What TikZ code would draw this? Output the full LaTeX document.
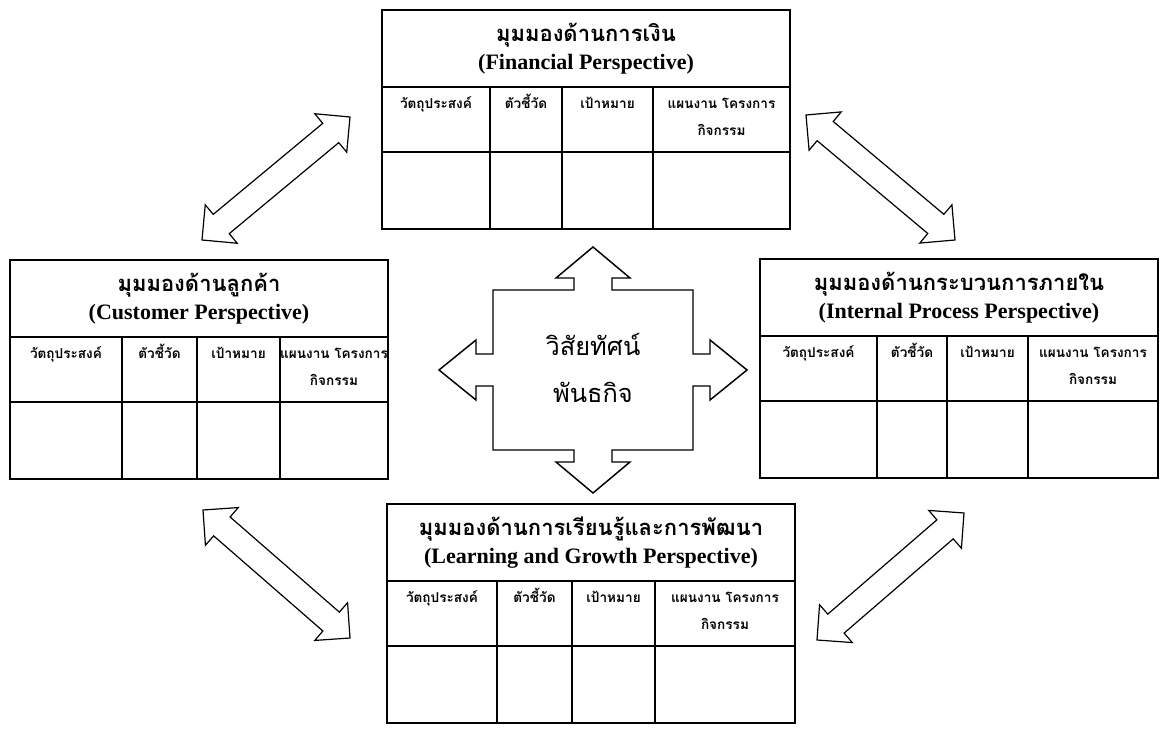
\documentclass[tikz,border=0pt]{standalone}
\usepackage{fontspec}
\setmainfont{Liberation Serif}
\newfontfamily\thai[Script=Thai]{Loma}
\usetikzlibrary{calc}

% one perspective table: name, x, y, width, three column widths, Thai title, English title
\newcommand{\perspective}[9]{%
	\node[headcell, minimum width=#4*0.75pt, anchor=north west] (#1-head) at (#2, #3) {{\thai\bfseries #8}\\[1pt]{\bfseries #9}};
	\node[colcell, minimum width=#5*0.75pt] (#1-c1) at (#1-head.south west) {};
	\node[colcell, minimum width=#6*0.75pt] (#1-c2) at (#1-c1.north east) {};
	\node[colcell, minimum width=#7*0.75pt] (#1-c3) at (#1-c2.north east) {};
	\node[colcell, minimum width=(#4-#5-#6-#7)*0.75pt] (#1-c4) at (#1-c3.north east) {};
	\node[bodycell, minimum width=#5*0.75pt] (#1-b1) at (#1-c1.south west) {};
	\node[bodycell, minimum width=#6*0.75pt] (#1-b2) at (#1-c2.south west) {};
	\node[bodycell, minimum width=#7*0.75pt] (#1-b3) at (#1-c3.south west) {};
	\node[bodycell, minimum width=(#4-#5-#6-#7)*0.75pt] (#1-b4) at (#1-c4.south west) {};
	\node[collabel] (#1-t1) at ($(#1-c1.north) + (0, 7)$) {วัตถุประสงค์};
	\node[collabel] (#1-t2) at ($(#1-c2.north) + (0, 7)$) {ตัวชี้วัด};
	\node[collabel] (#1-t3) at ($(#1-c3.north) + (0, 7)$) {เป้าหมาย};
	\node[collabel] (#1-t4) at ($(#1-c4.north) + (0, 7)$) {\begin{tabular}[t]{@{}c@{}}แผนงาน โครงการ\\กิจกรรม\end{tabular}};
	\draw[line width = 2.2pt] (#1-c1.north west) rectangle (#1-b4.south east);
}

% hollow double arrow between two points
\newcommand{\bigarrow}[2]{%
	\draw[blockarrow] (#1) -- ($(#1)!26.5pt!45:(#2)$) -- ($(#1)!21pt!26.57:(#2)$) -- ($(#2)!21pt!-26.57:(#1)$) -- ($(#2)!26.5pt!-45:(#1)$) -- (#2) -- ($(#2)!26.5pt!45:(#1)$) -- ($(#2)!21pt!26.57:(#1)$) -- ($(#1)!21pt!-26.57:(#2)$) -- ($(#1)!26.5pt!-45:(#2)$) -- cycle;
}

\begin{document}
\begin{tikzpicture}[x = 0.75pt, y = -0.75pt,
	headcell/.style = {draw, line width = 1.1pt, fill = white, align = center, minimum height = 77*0.75pt, outer sep = 0pt, font = \fontsize{16.5}{20}\selectfont},
	colcell/.style = {draw, line width = 1.2pt, fill = white, anchor = north west, minimum height = 65*0.75pt, outer sep = 0pt, inner sep = 0pt},
	bodycell/.style = {draw, line width = 1.2pt, fill = white, anchor = north west, minimum height = 77*0.75pt, outer sep = 0pt, inner sep = 0pt},
	collabel/.style = {anchor = north, inner sep = 0pt, text height = 11pt, font = \thai\bfseries\fontsize{10.2}{20}\selectfont},
	blockarrow/.style = {draw, line width = 0.9pt, fill = white, line join = miter},
	vision/.style = {align = center, font = \thai\fontsize{19}{35}\selectfont}]
	 \useasboundingbox[fill = white] (0, 0) rectangle (1161, 730);

	 % the four perspectives
	 \perspective{fin}{382}{10}{408}{108}{72}{91}{มุมมองด้านการเงิน}{(Financial Perspective)}
	 \perspective{cus}{10}{260}{378}{112}{75}{83}{มุมมองด้านลูกค้า}{(Customer Perspective)}
	 \perspective{int}{760}{259}{398}{117}{70}{81}{มุมมองด้านกระบวนการภายใน}{(Internal Process Perspective)}
	 \perspective{lrn}{387}{504}{408}{110}{75}{83}{มุมมองด้านการเรียนรู้และการพัฒนา}{(Learning and Growth Perspective)}

	 % centre cross
	 \begin{scope}[shift = {(593, 370)}]
	 \draw[line width = 1.1pt, fill = white] (-100, -80) -- (-19, -80) -- (-19, -92) -- (-37, -92) -- (0, -123) -- (37, -92) -- (19, -92) -- (19, -80) -- (100, -80) -- (100, -16) -- (117, -16) -- (117, -30) -- (154, 0) -- (117, 30) -- (117, 16) -- (100, 16) -- (100, 80) -- (19, 80) -- (19, 92) -- (37, 92) -- (0, 123) -- (-37, 92) -- (-19, 92) -- (-19, 80) -- (-100, 80) -- (-100, 16) -- (-117, 16) -- (-117, 30) -- (-154, 0) -- (-117, -30) -- (-117, -16) -- (-100, -16) -- cycle;
	 \end{scope}
	 \node[vision] (vision) at (593, 368) {วิสัยทัศน์\\พันธกิจ};

	 % arrows between the tables
	 \coordinate (fc-a) at (202, 240);
	 \coordinate (fc-b) at (350, 117);
	 \coordinate (fi-a) at (806, 115);
	 \coordinate (fi-b) at (955, 240);
	 \coordinate (cl-a) at (203, 510);
	 \coordinate (cl-b) at (350, 638);
	 \coordinate (il-a) at (817, 640);
	 \coordinate (il-b) at (964, 513);
	 \bigarrow{fc-a}{fc-b}
	 \bigarrow{fi-a}{fi-b}
	 \bigarrow{cl-a}{cl-b}
	 \bigarrow{il-a}{il-b}
\end{tikzpicture}
\end{document}
